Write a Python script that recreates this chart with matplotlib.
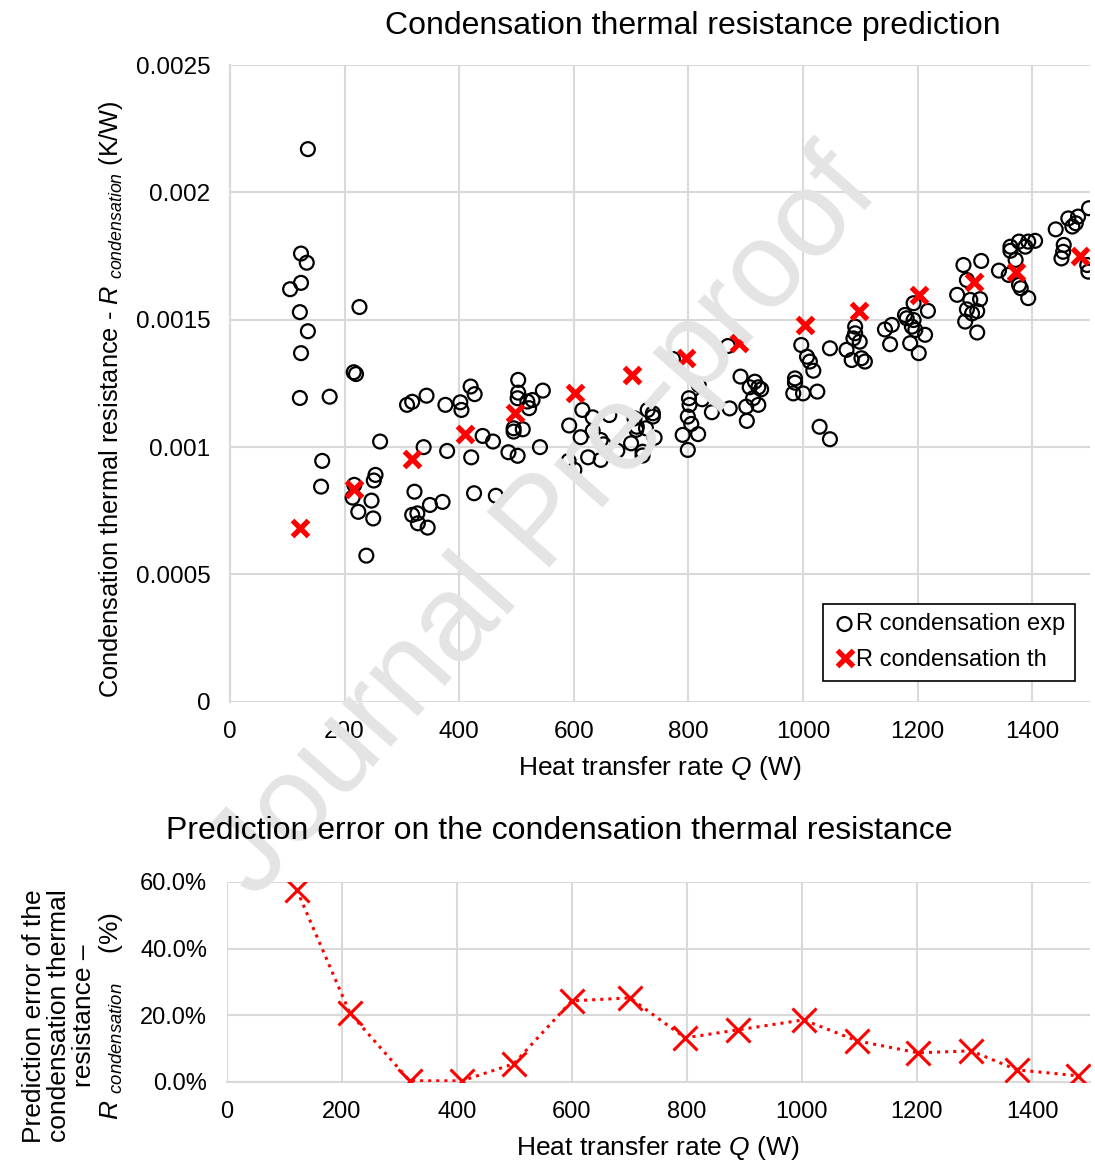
import matplotlib
matplotlib.use('Agg')
import matplotlib.pyplot as plt
from matplotlib.ticker import FuncFormatter

plt.rcParams['font.family'] = ['Liberation Sans', 'DejaVu Sans']
plt.rcParams['mathtext.fontset'] = 'custom'
plt.rcParams['mathtext.rm'] = 'Liberation Sans'
plt.rcParams['mathtext.it'] = 'Liberation Sans:italic'

# experimental points (Q in W, R in K/W)
q_exp = [136, 124, 134, 124, 105, 122, 136, 124, 122, 174, 226, 216, 220, 161, 159,
         217, 214, 224, 247, 250, 251, 254, 262, 238, 309, 318, 343, 376, 402, 404,
         420, 427, 503, 503, 502, 519, 528, 522, 546, 495, 495, 511, 338, 379, 421,
         441, 459, 486, 502, 541, 322, 318, 327, 328, 345, 349, 371, 426, 464,
         592, 591, 601, 615, 633, 612, 633, 647, 652, 662, 625, 647, 676, 700, 706,
         710, 709, 729, 738, 738, 726, 741, 720, 720, 773, 801, 802, 799, 805, 790,
         817, 799, 818, 824, 841, 869, 872, 891, 901, 902, 907, 916, 922, 927, 913,
         922, 997, 1007, 1012, 1018, 986, 986, 983, 1000, 1025, 1029, 1047, 1047,
         1076, 1091, 1091, 1088, 1099, 1085, 1102, 1108,
         1143, 1155, 1152, 1178, 1181, 1193, 1190, 1196, 1187, 1202, 1213, 1218, 1193,
         1280, 1311, 1286, 1269, 1292, 1309, 1286, 1295, 1304, 1283, 1304,
         1362, 1362, 1377, 1388, 1393, 1405, 1371, 1342, 1359, 1377, 1380, 1393,
         1441, 1463, 1470, 1476, 1480, 1499, 1455, 1454, 1451, 1496, 1498]
r_exp = [0.00217, 0.00176, 0.001724, 0.001645, 0.00162, 0.00153, 0.001455, 0.001369,
         0.001193, 0.001198, 0.00155, 0.001294, 0.001287, 0.000946, 0.000845,
         0.000852, 0.000802, 0.000746, 0.00079, 0.00072, 0.000869, 0.000891, 0.001022,
         0.000574, 0.001166, 0.001178, 0.001202, 0.001166, 0.001176, 0.001146,
         0.001238, 0.001208, 0.001264, 0.001214, 0.001192, 0.001179, 0.001185,
         0.001153, 0.001222, 0.001074, 0.001061, 0.00107, 0.001, 0.000985, 0.00096,
         0.001044, 0.001022, 0.00098, 0.000966, 0.001, 0.000825, 0.000734, 0.00074,
         0.000701, 0.000684, 0.000773, 0.000785, 0.000819, 0.000809,
         0.001085, 0.000946, 0.000911, 0.001146, 0.001117, 0.001039, 0.001064,
         0.001028, 0.001011, 0.001126, 0.00096, 0.00095, 0.000986, 0.001015, 0.001113,
         0.00108, 0.001068, 0.001146, 0.001133, 0.00112, 0.001074, 0.001037, 0.000982,
         0.000967, 0.001346, 0.001192, 0.001166, 0.00112, 0.001091, 0.001048,
         0.001051, 0.000989, 0.001244, 0.001188, 0.001137, 0.001397, 0.001152,
         0.001277, 0.001159, 0.001103, 0.001235, 0.001257, 0.001235, 0.001227,
         0.001192, 0.001166, 0.001401, 0.001355, 0.001336, 0.0013, 0.00127, 0.001253,
         0.001211, 0.001211, 0.001218, 0.00108, 0.001031, 0.001388,
         0.001382, 0.001473, 0.001447, 0.001427, 0.001414, 0.001342, 0.001349, 0.001336,
         0.001462, 0.00148, 0.001404, 0.001519, 0.001506, 0.001499, 0.001473, 0.00146,
         0.001408, 0.001369, 0.001441, 0.001535, 0.001565,
         0.001715, 0.001731, 0.001656, 0.001598, 0.001578, 0.001581, 0.001541,
         0.001525, 0.001534, 0.001493, 0.00145,
         0.001787, 0.001771, 0.001807, 0.001787, 0.001807, 0.00181, 0.001735,
         0.001693, 0.001676, 0.001637, 0.001624, 0.001585,
         0.001855, 0.001898, 0.001866, 0.001879, 0.001905, 0.001938, 0.001794,
         0.001767, 0.001741, 0.001715, 0.001689]

# theoretical prediction
q_th = [122, 217, 318, 410, 497, 602, 701, 795, 888, 1003, 1098, 1202, 1298, 1372, 1483]
r_th = [0.000682, 0.000836, 0.000955, 0.001052, 0.001133, 0.001212, 0.001283, 0.001349,
        0.00141, 0.00148, 0.001535, 0.001597, 0.00165, 0.001689, 0.00175]

# prediction error (%)
q_err = [122, 214, 318, 409, 499, 600, 701, 797, 889, 1003, 1096, 1202, 1294, 1374, 1480]
err = [57.6, 20.7, 0.3, 0.3, 5.4, 24.3, 25.2, 13.2, 15.6, 18.6, 12.3, 8.7, 9.3, 3.6, 1.8]

grid_c = '#d9d9d9'
fig = plt.figure(figsize=(10.95, 11.62), dpi=100)

# watermark
fig.text(0.497, 0.548, 'Journal Pre-proof', fontsize=88, color='#e4e4e4',
         rotation=48.5, ha='center', va='center', zorder=0)

# top chart
ax = fig.add_axes([0.210, 0.396, 0.785, 0.548])
ax.patch.set_alpha(0)
ax.scatter(q_exp, r_exp, s=100, facecolors='none', edgecolors='black',
           linewidths=1.6, label='R condensation exp', zorder=3)
ax.plot(q_th, r_th, linestyle='none', marker='x', color='red', markersize=11,
        markeredgewidth=3.8, label='R condensation th', zorder=4)
ax.set_xlim(0, 1500)
ax.set_ylim(0, 0.0025)
ax.set_xticks(range(0, 1401, 200))
ax.set_yticks([0, 0.0005, 0.001, 0.0015, 0.002, 0.0025])
ax.yaxis.set_major_formatter(FuncFormatter(lambda v, p: '%g' % round(v, 6)))
ax.grid(True, color=grid_c, linewidth=1.5)
ax.set_axisbelow(True)
for s in ['top', 'right', 'bottom']:
    ax.spines[s].set_visible(False)
ax.spines['left'].set_color(grid_c)
ax.spines['left'].set_linewidth(1.5)
ax.tick_params(axis='y', length=0, labelsize=17.5, pad=14)
ax.tick_params(axis='x', length=0, labelsize=17.5, pad=14)
ax.set_xlabel('Heat transfer rate $\\it{Q}$ (W)', fontsize=19, labelpad=8)
ax.set_ylabel('Condensation thermal resistance - $\\it{R}$ $_{\\it{condensation}}$ (K/W)',
              fontsize=18.3)
ax.yaxis.set_label_coords(-0.122, 0.476)
leg = ax.legend(loc='lower right', bbox_to_anchor=(0.983, 0.033), fontsize=17,
                frameon=True, fancybox=False, edgecolor='black', handletextpad=0.0,
                handlelength=1.0, borderpad=0.4, labelspacing=0.6, framealpha=1,
                borderaxespad=0)
leg.get_frame().set_linewidth(1.2)
fig.text(0.633, 0.978, 'Condensation thermal resistance prediction', fontsize=23,
         ha='center', va='center')

# bottom chart
ax2 = fig.add_axes([0.207, 0.069, 0.788, 0.172])
ax2.patch.set_alpha(0)
ax2.plot(q_err, err, color='red', linestyle=':', linewidth=2.2, marker='x',
         markersize=17, markeredgewidth=2.2, zorder=3)
ax2.set_xlim(0, 1500)
ax2.set_ylim(0, 60)
ax2.set_xticks(range(0, 1401, 200))
ax2.set_yticks([0, 20, 40, 60])
ax2.yaxis.set_major_formatter(FuncFormatter(lambda v, p: '%.1f%%' % v))
ax2.grid(True, color=grid_c, linewidth=1.5)
ax2.set_axisbelow(True)
for s in ['top', 'right', 'left']:
    ax2.spines[s].set_visible(False)
ax2.spines['bottom'].set_color(grid_c)
ax2.spines['bottom'].set_linewidth(1.5)
ax2.tick_params(axis='y', length=0, labelsize=17, pad=14)
ax2.tick_params(axis='x', length=0, labelsize=17, pad=14)
ax2.set_xlabel('Heat transfer rate $\\it{Q}$ (W)', fontsize=19, labelpad=8)
ax2.set_ylabel('Prediction error of the\ncondensation thermal\nresistance \u2013\n'
               '$\\it{R}$ $_{\\it{condensation}}$    (%)', fontsize=19,
               linespacing=1.05)
ax2.yaxis.set_label_coords(-0.118, 0.33)
fig.text(0.511, 0.285, 'Prediction error on the condensation thermal resistance',
         fontsize=23, ha='center', va='center')

fig.savefig('out.png', dpi=100)
